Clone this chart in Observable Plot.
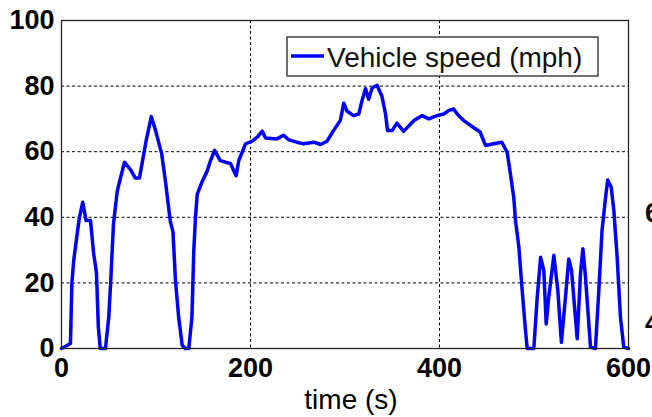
<!DOCTYPE html>
<html>
<head>
<meta charset="utf-8">
<script src="https://cdn.jsdelivr.net/npm/d3@7"></script>
<script src="https://cdn.jsdelivr.net/npm/@observablehq/plot@0.6"></script>
<style>
  html, body { margin: 0; padding: 0; background: #fff; }
  svg { display: block; }
</style>
</head>
<body>
<div id="chart"></div>
<script>
const time = [0, 9.5, 10, 11, 13, 16.6, 19, 22.5, 26, 30.7, 34, 37, 39, 41, 46.5, 50, 52, 55, 59, 62.4, 66.7, 73, 78, 82.5, 85, 89.6, 95, 99.5, 106, 110, 115, 118, 120.6, 124, 127.7, 131, 134.7, 138, 140, 141.8, 143.6, 149, 154, 157.7, 162, 168, 173.5, 178.8, 184.8, 187.6, 194.7, 201.8, 207.7, 212.4, 215.9, 228, 235, 240.5, 249, 256, 267, 274, 281, 288, 295, 298.7, 302, 309, 314.6, 318, 321.7, 325, 328.8, 334, 339, 342.9, 345, 350, 355, 362, 373, 381.7, 388.7, 397.5, 404.6, 410, 415, 418.7, 422, 425.7, 432.8, 443, 448.7, 457.5, 466, 471.6, 475, 478.6, 480.4, 484, 487.5, 491, 492.8, 499.8, 503.4, 507, 510.4, 512.9, 515.6, 521, 525.2, 529, 533.3, 536.8, 539.7, 545.7, 549.2, 551.7, 554.5, 559.8, 565, 568.6, 572, 575.7, 578, 581.7, 584.5, 588, 591.5, 595, 600];
const speed = [0, 1.5, 8, 20, 27, 35, 40, 44.6, 39, 39, 29, 23, 6.5, 0, 0, 9.5, 20, 38, 48, 52, 56.8, 54.5, 52, 52, 56, 63.4, 70.7, 66.5, 59.4, 51, 39, 35.5, 20.7, 9.5, 1, 0, 0, 9.5, 30, 40, 47, 51, 54, 57.3, 60.4, 57.3, 56.8, 56.4, 52.7, 57.3, 62.4, 63.2, 64.6, 66.3, 64.2, 63.9, 65, 63.6, 62.9, 62.4, 62.9, 62.2, 63.2, 66.5, 69.5, 74.8, 72.4, 71, 71.5, 75.6, 79.2, 76, 79.5, 80.2, 77, 71.5, 66.5, 66.5, 68.7, 66.2, 69.5, 71, 70, 71, 71.5, 72.6, 73, 71.5, 70.5, 69.5, 68, 66, 61.9, 62.4, 62.9, 59.8, 53.3, 46, 39, 30.9, 17.7, 5.5, 0, 0, 15.6, 27.8, 23.8, 7.5, 15.6, 28.4, 17.7, 1.9, 15.6, 27.3, 23.8, 3, 22.8, 30.4, 21.7, 0.4, 0, 17.7, 36, 46, 51.4, 49.2, 42, 27.8, 9.5, 0.4, 0];
const xTicks = [0, 200, 400, 600];
const yTicks = [0, 20, 40, 60, 80, 100];
const xGrid = [200, 400];
const yGrid = [20, 40, 60, 80];
const seriesName = "Vehicle speed (mph)";
const xLabel = "time (s)";
const edgeLabels = ["60", "40"];

const data = time.map((t, i) => ({t, v: speed[i]}));
const FONT = "'Liberation Sans', Arial, Helvetica, sans-serif";

const chart = Plot.plot({
  width: 652,
  height: 417,
  marginLeft: 61,
  marginRight: 24,
  marginTop: 20,
  marginBottom: 69,
  style: {fontFamily: FONT, fontSize: "27px", background: "#fff", overflow: "hidden"},
  x: {domain: [0, 600]},
  y: {domain: [0, 100]},
  marks: [
    Plot.gridX(xGrid, {stroke: "#000", strokeOpacity: 1, strokeDasharray: "3,2.5", strokeWidth: 1}),
    Plot.gridY(yGrid, {stroke: "#000", strokeOpacity: 1, strokeDasharray: "3,2.5", strokeWidth: 1}),
    Plot.line(data, {x: "t", y: "v", stroke: "#0000ff", strokeWidth: 3.5, strokeLinejoin: "round"}),
    Plot.frame({stroke: "#262626", strokeWidth: 1.3}),
    Plot.axisX({ticks: xTicks, tickSize: 0, tickPadding: 9, fontSize: 27, fontWeight: "bold", label: null, fill: "#000"}),
    Plot.axisY({ticks: yTicks, tickSize: 0, tickPadding: 7, fontSize: 27, fontWeight: "bold", label: null, fill: "#000"}),
    Plot.text([xLabel], {frameAnchor: "bottom", dx: 6, dy: 60, fontSize: 28, fill: "#000"})
  ]
});

const svg = d3.select(chart);
const leg = svg.append("g").attr("text-anchor", "start");
leg.append("rect").attr("x", 287).attr("y", 37).attr("width", 311).attr("height", 39)
  .attr("fill", "#fff").attr("stroke", "#262626").attr("stroke-width", 1.3);
leg.append("line").attr("x1", 291).attr("x2", 324).attr("y1", 56).attr("y2", 56)
  .attr("stroke", "#0000ff").attr("stroke-width", 3.5);
leg.append("text").attr("x", 327).attr("y", 67).attr("font-size", 28)
  .attr("font-family", FONT).attr("fill", "#111").text(seriesName);
// labels of a neighbouring chart, cut off at the right edge in the reference
const edge = svg.append("g").attr("text-anchor", "start").attr("font-weight", "bold").attr("font-size", 27).attr("font-family", FONT);
edge.append("text").attr("x", 645).attr("y", 222).text(edgeLabels[0]);
edge.append("text").attr("x", 645).attr("y", 332).text(edgeLabels[1]);

document.getElementById("chart").appendChild(chart);
</script>
</body>
</html>
